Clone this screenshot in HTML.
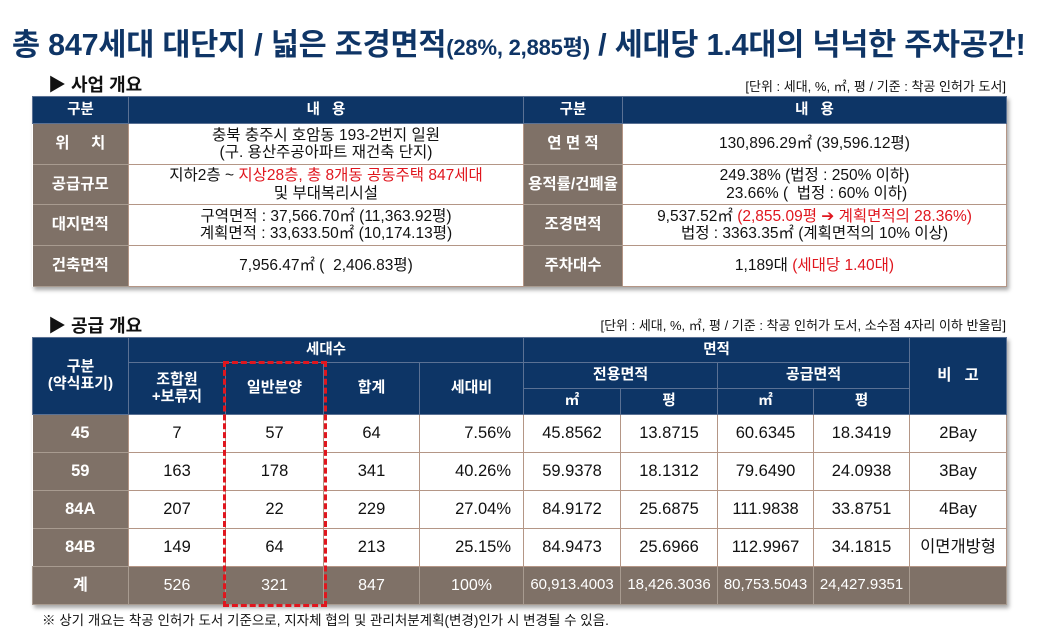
<!DOCTYPE html>
<html><head><meta charset="utf-8"><style>
body{margin:0;width:1053px;height:632px;background:#fff;font-family:"Liberation Sans","Noto Sans CJK KR",sans-serif;position:relative;overflow:hidden;color:#111}
.t{position:absolute;white-space:nowrap}
table{position:absolute;left:32px;border-collapse:collapse;table-layout:fixed;font-size:15.5px;box-shadow:2px 3px 4px rgba(0,0,0,0.35)}
td,th{padding:0;text-align:center;vertical-align:middle;line-height:1.12}
th{background:#0d3566;color:#fff;font-weight:bold;font-size:14.5px;border:1px solid #5a7194}
td.g{background:#7f7167;color:#fff;font-weight:bold;border-top:1px solid #a89b90;border-bottom:1px solid #a89b90}
td.w{background:#fff;border:1px solid #b49686}
tr.tot td{background:#7f7167;color:#fff;border:1px solid #a89b90;font-size:16px}
.r{color:#e0161e}
</style></head><body>
<div class="t" style="left:12px;top:20px;font-size:30.5px;font-weight:bold;color:#0f3566;letter-spacing:-0.2px">총 847세대 대단지 / 넓은 조경면적<span style="font-size:22px">(28%, 2,885평)</span> / 세대당 1.4대의 넉넉한 주차공간!</div>

<div class="t" style="left:48px;top:71px;font-size:18px;font-weight:bold">▶ 사업 개요</div>
<div class="t" style="right:47px;top:76px;font-size:13px">[단위 : 세대, %, ㎡, 평 / 기준 : 착공 인허가 도서]</div>

<table style="top:96px;width:974px">
<colgroup><col style="width:96px"><col style="width:395px"><col style="width:99px"><col style="width:384px"></colgroup>
<tr style="height:27px"><th>구분</th><th>내 &nbsp; 용</th><th>구분</th><th>내 &nbsp; 용</th></tr>
<tr style="height:41px"><td class="g">위 &nbsp; &nbsp; 치</td><td class="w">충북 충주시 호암동 193-2번지 일원<br>(구. 용산주공아파트 재건축 단지)</td><td class="g">연 면 적</td><td class="w">130,896.29㎡ (39,596.12평)</td></tr>
<tr style="height:40px"><td class="g">공급규모</td><td class="w">지하2층 ~ <span class="r">지상28층, 총 8개동 공동주택 847세대</span><br>및 부대복리시설</td><td class="g">용적률/건폐율</td><td class="w">249.38% (법정 : 250% 이하)<br>&nbsp;23.66% ( &nbsp;법정 : 60% 이하)</td></tr>
<tr style="height:41px"><td class="g">대지면적</td><td class="w">구역면적 : 37,566.70㎡ (11,363.92평)<br>계획면적 : 33,633.50㎡ (10,174.13평)</td><td class="g">조경면적</td><td class="w">9,537.52㎡ <span class="r">(2,855.09평 ➔ 계획면적의 28.36%)</span><br>법정 : 3363.35㎡ (계획면적의 10% 이상)</td></tr>
<tr style="height:41px"><td class="g">건축면적</td><td class="w">7,956.47㎡ ( &nbsp;2,406.83평)</td><td class="g">주차대수</td><td class="w">1,189대 <span class="r">(세대당 1.40대)</span></td></tr>
</table>

<div class="t" style="left:48px;top:312px;font-size:18px;font-weight:bold">▶ 공급 개요</div>
<div class="t" style="right:47px;top:315px;font-size:13px">[단위 : 세대, %, ㎡, 평 / 기준 : 착공 인허가 도서, 소수점 4자리 이하 반올림]</div>

<table style="top:337px;width:974px;font-size:16.5px">
<colgroup><col style="width:96px"><col style="width:97px"><col style="width:98px"><col style="width:96px"><col style="width:104px"><col style="width:97px"><col style="width:97px"><col style="width:96px"><col style="width:96px"><col style="width:97px"></colgroup>
<tr style="height:25px"><th rowspan="3" style="font-size:15px">구분<br>(약식표기)</th><th colspan="4">세대수</th><th colspan="4">면적</th><th rowspan="3" style="font-size:15.5px">비 &nbsp; 고</th></tr>
<tr style="height:26px"><th rowspan="2" style="font-size:15px">조합원<br>+보류지</th><th rowspan="2" style="font-size:15px">일반분양</th><th rowspan="2" style="font-size:15px">합계</th><th rowspan="2" style="font-size:15px">세대비</th><th colspan="2" style="font-size:15px">전용면적</th><th colspan="2" style="font-size:15px">공급면적</th></tr>
<tr style="height:26px"><th>㎡</th><th>평</th><th>㎡</th><th>평</th></tr>
<tr style="height:38px"><td class="g">45</td><td class="w">7</td><td class="w">57</td><td class="w">64</td><td class="w" style="text-align:right;padding-right:12px">7.56%</td><td class="w">45.8562</td><td class="w">13.8715</td><td class="w">60.6345</td><td class="w">18.3419</td><td class="w">2Bay</td></tr>
<tr style="height:38px"><td class="g">59</td><td class="w">163</td><td class="w">178</td><td class="w">341</td><td class="w" style="text-align:right;padding-right:12px">40.26%</td><td class="w">59.9378</td><td class="w">18.1312</td><td class="w">79.6490</td><td class="w">24.0938</td><td class="w">3Bay</td></tr>
<tr style="height:38px"><td class="g">84A</td><td class="w">207</td><td class="w">22</td><td class="w">229</td><td class="w" style="text-align:right;padding-right:12px">27.04%</td><td class="w">84.9172</td><td class="w">25.6875</td><td class="w">111.9838</td><td class="w">33.8751</td><td class="w">4Bay</td></tr>
<tr style="height:38px"><td class="g">84B</td><td class="w">149</td><td class="w">64</td><td class="w">213</td><td class="w" style="text-align:right;padding-right:12px">25.15%</td><td class="w">84.9473</td><td class="w">25.6966</td><td class="w">112.9967</td><td class="w">34.1815</td><td class="w">이면개방형</td></tr>
<tr class="tot" style="height:38px"><td style="font-weight:bold">계</td><td>526</td><td>321</td><td>847</td><td>100%</td><td style="font-size:15px">60,913.4003</td><td style="font-size:15px">18,426.3036</td><td style="font-size:15px">80,753.5043</td><td style="font-size:15px">24,427.9351</td><td></td></tr>
</table>

<div style="position:absolute;left:223px;top:361px;width:98px;height:240px;border:3px dashed #e0161e"></div>

<div class="t" style="left:42px;top:609px;font-size:13.5px">※ 상기 개요는 착공 인허가 도서 기준으로, 지자체 협의 및 관리처분계획(변경)인가 시 변경될 수 있음.</div>
</body></html>
